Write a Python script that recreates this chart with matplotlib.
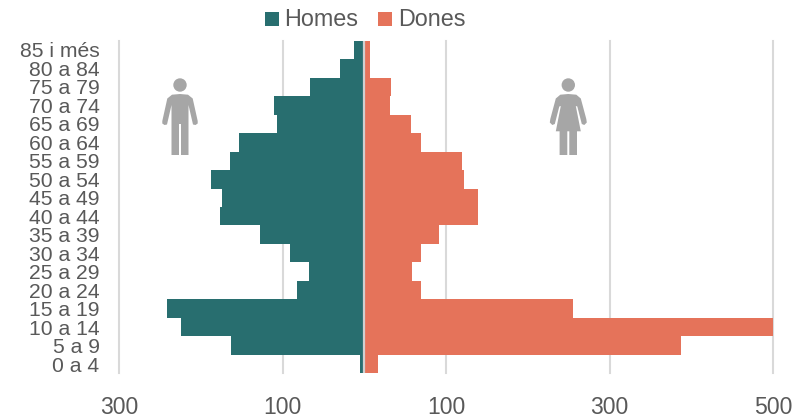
import matplotlib
matplotlib.use('Agg')
import matplotlib.pyplot as plt
from matplotlib.patches import Circle, Polygon, Rectangle
from matplotlib.transforms import Affine2D

plt.rcParams['font.family'] = ['Liberation Sans', 'DejaVu Sans']

# Age groups, bottom to top
ages = ['0 a 4', '5 a 9', '10 a 14', '15 a 19', '20 a 24', '25 a 29', '30 a 34',
        '35 a 39', '40 a 44', '45 a 49', '50 a 54', '55 a 59', '60 a 64', '65 a 69',
        '70 a 74', '75 a 79', '80 a 84', '85 i més']
homes = [5.5, 163, 224.5, 241, 82, 68, 91, 127, 176, 173.5, 187, 164.5, 153.5, 107,
         110, 66.7, 29.6, 12.5]
dones = [16.5, 387, 500, 255, 70, 59, 70, 91, 139, 139.2, 122.5, 119.3, 69.5, 57.7,
         31.6, 32.4, 7.5, 6.7]
xticks = [-300, -100, 100, 300, 500]
xlabels = ['300', '100', '100', '300', '500']

teal = '#286E6F'
coral = '#E5735A'
grey_text = '#595959'
grid_grey = '#D9D9D9'
icon_grey = '#A6A6A6'

W, H = 806, 419
fig = plt.figure(figsize=(W / 100, H / 100), dpi=100)
ax = fig.add_axes([119 / W, (H - 373.3) / H, 654 / W, 332.6 / H])

ax.barh(ages, [-v for v in homes], height=1.0, color=teal, zorder=2)
ax.barh(ages, dones, height=1.0, color=coral, zorder=2)
ax.axvline(0, color='#D0D0D0', lw=1.6, zorder=3)

ax.set_xlim(-300, 500)
ax.set_ylim(-0.5, 17.5)
ax.set_xticks(xticks)
ax.set_xticklabels(xlabels, fontsize=16.6, color=grey_text)
ax.tick_params(axis='x', length=0, pad=16)
ax.tick_params(axis='y', length=0, pad=14, labelsize=15.2, labelcolor=grey_text)
ax.grid(axis='x', color=grid_grey, lw=1.5, zorder=1)
ax.set_axisbelow(True)
for s in ax.spines.values():
    s.set_visible(False)
for gl in ax.get_xgridlines():
    gl.set_clip_on(False)

# pixel coordinates, origin top left, for the legend and the two figures
px = Affine2D().scale(1, -1).translate(0, H) + Affine2D().scale(fig.dpi / 100)


def add_figure(cx, half):
    pts = [(cx + dx, y) for dx, y in half] + [(cx - dx, y) for dx, y in reversed(half)]
    fig.add_artist(Polygon(pts, closed=True, facecolor=icon_grey, edgecolor='none', transform=px))
    fig.add_artist(Circle((cx, 85), 6.7, facecolor=icon_grey, edgecolor='none', transform=px))


man = [(0, 94), (8, 94.7), (12.7, 98.5), (17.7, 121), (17.7, 123.5), (15.5, 125), (13, 124.5),
       (8.5, 105), (8.5, 155), (1, 155), (1, 124), (0, 124)]
woman = [(0, 94), (8, 94.7), (12.5, 98.5), (18, 119), (18.5, 122.5), (16, 125), (13.5, 124),
         (9, 106.5), (7.5, 106), (12.5, 131.3), (8.7, 131.3), (8.7, 155), (1, 155), (1, 131.3),
         (0, 131.3)]
add_figure(180, man)
add_figure(568.3, woman)

# legend drawn by hand so it sits where the original does
for x0, col, name, tx in [(265, teal, 'Homes', 284.5), (378, coral, 'Dones', 398)]:
    fig.add_artist(Rectangle((x0, 12), 14, 14, facecolor=col, edgecolor='none', transform=px))
    fig.text(tx, 19.5, name, transform=px, fontsize=16.8, color=grey_text, ha='left', va='center')

fig.savefig('out.png', dpi=100)
